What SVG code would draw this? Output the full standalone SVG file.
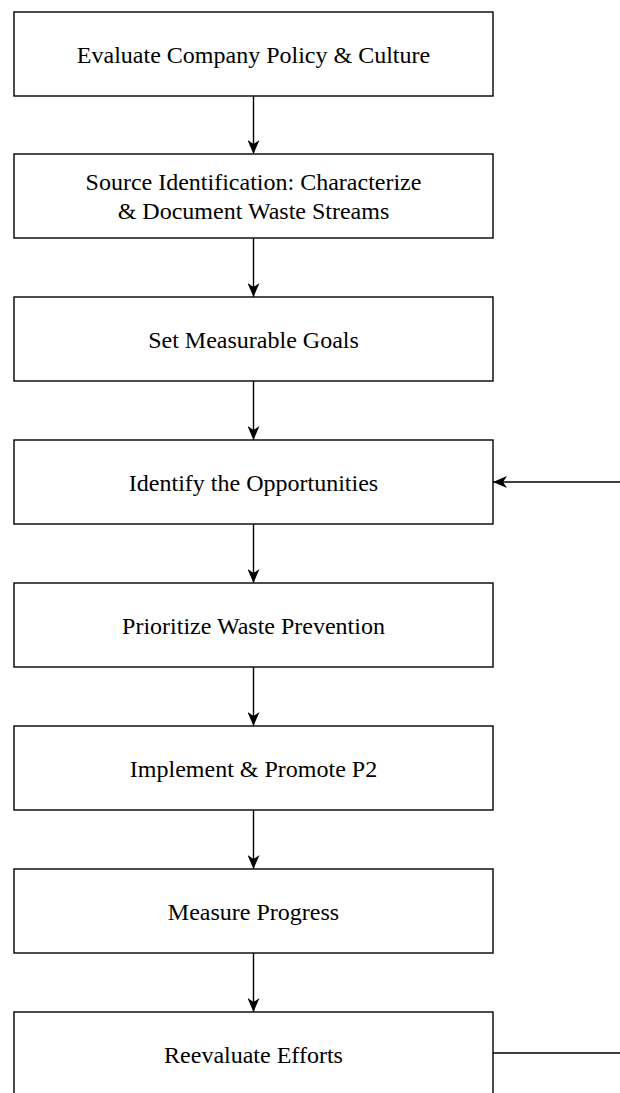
<svg xmlns="http://www.w3.org/2000/svg" width="620" height="1093" viewBox="0 0 620 1093">
<style>
.box{fill:#fff;stroke:#000;stroke-width:1.4}
.lbl{font-family:"Liberation Serif","Times New Roman",serif;font-size:24px;fill:#000;text-anchor:middle}
.edge{fill:none;stroke:#000;stroke-width:1.4}
</style>
<defs>
<marker id="ah" viewBox="0 0 14 12" refX="14" refY="6" markerWidth="14" markerHeight="12" markerUnits="userSpaceOnUse" orient="auto">
<path d="M0,0 L14,6 L0,12 L4,6 Z" fill="#000"/>
</marker>
</defs>
<rect width="620" height="1093" fill="#fff"/>
<g id="connectors">
<line class="edge" x1="253.5" y1="96" x2="253.5" y2="154" marker-end="url(#ah)"/>
<line class="edge" x1="253.5" y1="238" x2="253.5" y2="297" marker-end="url(#ah)"/>
<line class="edge" x1="253.5" y1="381" x2="253.5" y2="440" marker-end="url(#ah)"/>
<line class="edge" x1="253.5" y1="524" x2="253.5" y2="583" marker-end="url(#ah)"/>
<line class="edge" x1="253.5" y1="667" x2="253.5" y2="726" marker-end="url(#ah)"/>
<line class="edge" x1="253.5" y1="810" x2="253.5" y2="869" marker-end="url(#ah)"/>
<line class="edge" x1="253.5" y1="953" x2="253.5" y2="1012" marker-end="url(#ah)"/>
<path class="edge" d="M493,1053 L640,1053 L640,482 L493,482" marker-end="url(#ah)"/>
</g>
<g id="n1"><rect class="box" x="14" y="12" width="479" height="84"/><text class="lbl" x="253.5" y="62.5">Evaluate Company Policy &amp; Culture</text></g>
<g id="n2"><rect class="box" x="14" y="154" width="479" height="84"/><text class="lbl" x="253.5" y="189.5">Source Identification: Characterize</text><text class="lbl" x="253.5" y="218.5">&amp; Document Waste Streams</text></g>
<g id="n3"><rect class="box" x="14" y="297" width="479" height="84"/><text class="lbl" x="253.5" y="347.5">Set Measurable Goals</text></g>
<g id="n4"><rect class="box" x="14" y="440" width="479" height="84"/><text class="lbl" x="253.5" y="490.5">Identify the Opportunities</text></g>
<g id="n5"><rect class="box" x="14" y="583" width="479" height="84"/><text class="lbl" x="253.5" y="633.5">Prioritize Waste Prevention</text></g>
<g id="n6"><rect class="box" x="14" y="726" width="479" height="84"/><text class="lbl" x="253.5" y="776.5">Implement &amp; Promote P2</text></g>
<g id="n7"><rect class="box" x="14" y="869" width="479" height="84"/><text class="lbl" x="253.5" y="919.5">Measure Progress</text></g>
<g id="n8"><rect class="box" x="14" y="1012" width="479" height="84"/><text class="lbl" x="253.5" y="1062.5">Reevaluate Efforts</text></g>
</svg>
